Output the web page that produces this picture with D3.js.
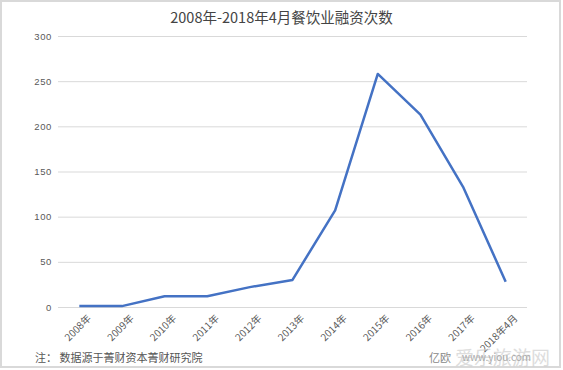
<!DOCTYPE html>
<html>
<head>
<meta charset="utf-8">
<script src="https://cdn.jsdelivr.net/npm/d3@7"></script>
<style>
  body { margin: 0; background: #fff; }
  text { font-family: "Noto Sans CJK SC", "Noto Sans", sans-serif; }
</style>
</head>
<body>
<div id="chart"></div>
<script>
const years = ["2008年", "2009年", "2010年", "2011年", "2012年", "2013年", "2014年", "2015年", "2016年", "2017年", "2018年4月"];
const counts = [1, 1, 12, 12, 22, 30, 107, 258, 213, 133, 28];
const yTicks = [0, 50, 100, 150, 200, 250, 300];

const width = 563, height = 370;
const margin = { left: 58, right: 36, top: 36, bottom: 63 };

const svg = d3.select("#chart").append("svg")
  .attr("width", width)
  .attr("height", height);

// frame round the picture
svg.append("rect")
  .attr("x", 1).attr("y", 1)
  .attr("width", width - 4).attr("height", height - 4)
  .attr("fill", "#fff")
  .attr("stroke", "#d9d9d9")
  .attr("stroke-width", 2);

svg.append("text")
  .attr("x", width / 2)
  .attr("y", 23)
  .attr("text-anchor", "middle")
  .style("font-size", "14.5px")
  .style("fill", "#444")
  .text("2008年-2018年4月餐饮业融资次数");

let x = d3.scalePoint()
  .domain(years)
  .range([margin.left, width - margin.right])
  .padding(0.5);

let y = d3.scaleLinear()
  .domain([0, 300])
  .range([height - margin.bottom, margin.top]);

// gridlines + y labels
let yAxis = svg.append("g")
  .attr("transform", "translate(" + margin.left + ",0)")
  .call(d3.axisLeft(y).tickValues(yTicks).tickSize(-(width - margin.left - margin.right)).tickPadding(6));
yAxis.select(".domain").remove();
yAxis.selectAll(".tick line").attr("stroke", "#d9d9d9");
yAxis.selectAll(".tick text")
  .style("font-size", "9.5px")
  .style("letter-spacing", "0.6px")
  .style("fill", "#595959")
  .style("font-family", "Liberation Sans, sans-serif");

// x labels, rotated
let xAxis = svg.append("g")
  .attr("transform", "translate(0," + (height - margin.bottom) + ")")
  .call(d3.axisBottom(x).tickSize(0).tickPadding(10));
xAxis.select(".domain").remove();
xAxis.selectAll(".tick text")
  .attr("text-anchor", "end")
  .attr("dx", "0em")
  .attr("dy", "0.7em")
  .attr("transform", "rotate(-45)")
  .style("font-size", "10px")
  .style("fill", "#595959");

let line = d3.line()
  .x((d, i) => x(years[i]))
  .y(d => y(d));

svg.append("path")
  .datum(counts)
  .attr("d", line)
  .attr("fill", "none")
  .attr("stroke", "#4472C4")
  .attr("stroke-width", 2.5)
  .attr("stroke-linejoin", "round");

svg.append("text")
  .attr("x", 35)
  .attr("y", 362)
  .style("font-size", "11px")
  .style("fill", "#555")
  .text("注：  数据源于菁财资本菁财研究院");

// watermark, bottom right (the site stamp sits over the url, as in the source)
svg.append("text")
  .attr("x", 429)
  .attr("y", 362)
  .style("font-size", "11px")
  .style("fill", "#888")
  .text("亿欧");
svg.append("text")
  .attr("x", 455)
  .attr("y", 365)
  .style("font-size", "19px")
  .style("fill", "#cfcfcf")
  .style("opacity", 0.7)
  .text("爱乐旅游网");
svg.append("text")
  .attr("x", 462)
  .attr("y", 361)
  .style("font-size", "10px")
  .style("fill", "#aaa")
  .text("www.yiou.com");
</script>
</body>
</html>
